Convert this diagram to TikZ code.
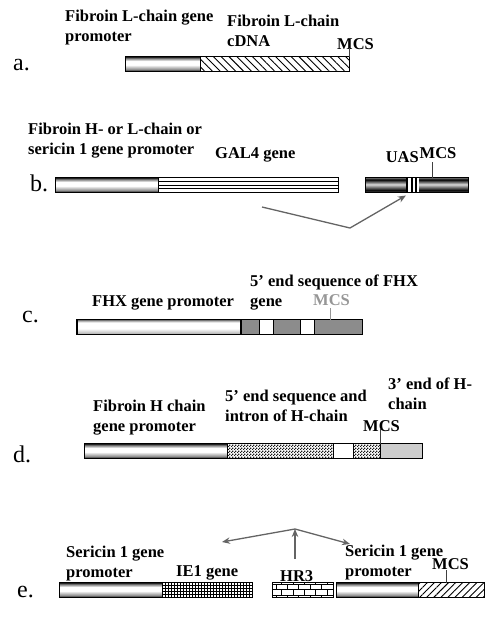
\documentclass[tikz,border=0pt]{standalone}
\usepackage{fontspec}
\setmainfont{Liberation Serif}
\usetikzlibrary{arrows.meta,positioning,patterns,patterns.meta,calc}
\definecolor{arrgray}{RGB}{100,100,100}
\definecolor{exongray}{RGB}{140,140,140}
\definecolor{tailgray}{RGB}{205,205,205}
\definecolor{mcsgray}{RGB}{150,150,150}
\pgfdeclareverticalshading{promoshade}{100bp}{color(0bp)=(black); color(25bp)=(black);
  color(32bp)=(black!45); color(47bp)=(white); color(60bp)=(white);
  color(69bp)=(black!50); color(75bp)=(black); color(100bp)=(black)}
\pgfdeclareverticalshading{lightshade}{100bp}{color(0bp)=(black!60); color(25bp)=(black!60);
  color(30bp)=(black!25); color(45bp)=(white); color(65bp)=(white);
  color(72bp)=(black!40); color(75bp)=(black!70); color(100bp)=(black!70)}
\pgfdeclareverticalshading{uasshade}{100bp}{color(0bp)=(black!50); color(25bp)=(black!50);
  color(32bp)=(black); color(52bp)=(black!15); color(68bp)=(black); color(75bp)=(black!50);
  color(100bp)=(black!50)}
\pgfdeclarepatternformonly{finechecks}{\pgfqpoint{0pt}{0pt}}{\pgfqpoint{3pt}{3pt}}{\pgfqpoint{3pt}{3pt}}{
  \pgfpathrectangle{\pgfqpoint{0pt}{0pt}}{\pgfqpoint{1.5pt}{1.5pt}}
  \pgfpathrectangle{\pgfqpoint{1.5pt}{1.5pt}}{\pgfqpoint{1.5pt}{1.5pt}}
  \pgfusepath{fill}}

\begin{document}
\begin{tikzpicture}[x=1pt, y=-1pt,
    seg/.style={draw, line width=0.7pt, minimum height=15pt, inner sep=0pt,
                outer sep=0pt, anchor=west},
    promo/.style={seg, shading=promoshade},
    lbl/.style={font=\fontsize{16.5}{20}\selectfont\bfseries, align=left,
                inner sep=0pt, anchor=north west},
    tag/.style={font=\fontsize{24}{24}\selectfont, inner sep=0pt, anchor=base west},
    tick/.style={line width=0.6pt, black!75},
    arr/.style={-{Stealth[length=8pt,width=6.5pt]}, line width=1.3pt, arrgray}
  ]
  \useasboundingbox (0,0) rectangle (500,621);

  % a. L-chain construct
  \node[tag] (ta) at (13,70) {a.};
  \node[promo, minimum width=75pt] (aP) at (125,64) {};
  \node[seg, minimum width=149pt, right=0pt of aP,
        pattern={Lines[angle=-45,distance=5.5pt,line width=0.9pt]}] (aC) {};
  \node[lbl] (aL1) at (65,10) {Fibroin L-chain gene\\promoter};
  \node[lbl] (aL2) at (227,14.5) {Fibroin L-chain\\cDNA};
  \node[lbl] (aM) at (337,38.5) {MCS};
  \draw[tick] (aC.north east) -- ++(0,-9);

  % b. GAL4 / UAS
  \node[tag] (tb) at (30,191) {b.};
  \node[promo, minimum width=103pt] (bP) at (55,185) {};
  \node[seg, minimum width=180pt, right=0pt of bP] (bG) {};
  \foreach \f in {0.25,0.5,0.75}
    \draw[line width=0.7pt] ($(bG.north west)!\f!(bG.south west)$)
      -- ($(bG.north east)!\f!(bG.south east)$);
  \node[seg, shading=uasshade, minimum width=103pt] (bR) at (365,185) {};
  \node[seg, draw=none, fill=white, minimum width=13pt, minimum height=14pt] (bU) at (405.5,185) {};
  \foreach \x in {406,410.5,415}
    \fill (\x,177.5) rectangle ++(2.4,15);
  \node[lbl] (bL1) at (28,122.5) {Fibroin H- or L-chain or\\sericin 1 gene promoter};
  \node[lbl] (bL2) at (215,147.5) {GAL4 gene};
  \node[lbl, anchor=north east] (bL3) at (419,151.5) {UAS};
  \node[lbl] (bM) at (419.5,147.5) {MCS};
  \draw[tick] ([xshift=15.5pt]bR.north) -- ++(0,-16);
  \coordinate (bA) at (262,207);
  \coordinate (bV) at (350,228);
  \draw[arr, shorten >=7pt] (bA) -- (bV) -- (bU.south);

  % c. FHX construct
  \node[tag] (tc) at (22,322) {c.};
  \node[seg, shading=lightshade, line width=1.2pt, minimum width=164pt] (cP) at (77,327) {};
  \node[seg, fill=exongray, minimum width=121pt, right=0pt of cP] (cS) {};
  \node[seg, fill=white, minimum width=14pt] (cW1) at (259,327) {};
  \node[seg, fill=white, minimum width=14pt] (cW2) at (300,327) {};
  \node[lbl] (cL1) at (250,275) {5’ end sequence of FHX\\gene};
  \node[lbl] (cL2) at (92,295) {FHX gene promoter};
  \node[lbl, mcsgray] (cM) at (313,294.5) {MCS};
  \draw[tick, mcsgray] (330,319.5) -- ++(0,-12);

  % d. H-chain construct
  \node[tag] (td) at (13,462) {d.};
  \node[promo, minimum width=143pt] (dP) at (84,451) {};
  \node[seg, minimum width=153pt, right=0pt of dP,
        pattern=finechecks, pattern color=black!90] (dI) {};
  \node[seg, fill=white, minimum width=20pt] (dW) at (333,451) {};
  \node[seg, fill=tailgray, minimum width=42pt, right=0pt of dI] (dE) {};
  \node[lbl] (dL1) at (93,399.5) {Fibroin H chain\\gene promoter};
  \node[lbl] (dL2) at (225,389.5) {5’ end sequence and\\intron of H-chain};
  \node[lbl] (dL3) at (388,377.5) {3’ end of H-\\chain};
  \node[lbl] (dM) at (363,420.5) {MCS};
  \draw[tick] (dE.north west) -- ++(0,-15);

  % e. IE1 / HR3 construct
  \node[tag] (te) at (17,597) {e.};
  \node[promo, minimum width=103pt] (eP) at (59,590) {};
  \node[seg, minimum width=90pt, right=0pt of eP, pattern=grid] (eI) {};
  \node[seg, minimum width=61pt, pattern=bricks] (eH) at (272,590) {};
  \node[promo, minimum width=82pt] (eQ) at (336,590) {};
  \node[seg, minimum width=66pt, right=0pt of eQ,
        pattern={Lines[angle=45,distance=5pt,line width=0.9pt]}] (eM) {};
  \node[lbl] (eL1) at (66,546) {Sericin 1 gene\\promoter};
  \node[lbl] (eL2) at (176,565.5) {IE1 gene};
  \node[lbl] (eL3) at (280,570.5) {HR3};
  \node[lbl] (eL4) at (345,544.5) {Sericin 1 gene\\promoter};
  \node[lbl] (eMc) at (432,558.5) {MCS};
  \draw[tick] ([xshift=28pt]eM.north west) -- ++(0,-13);
  \coordinate (eJ) at (295,529);
  \coordinate (eS) at (295,559);
  \coordinate (eL) at (222,542);
  \coordinate (eR) at (350,544);
  \draw[arr] (eS) -- (eJ);
  \foreach \t in {eL,eR}
    \draw[arr] (eJ) -- (\t);
\end{tikzpicture}
\end{document}
